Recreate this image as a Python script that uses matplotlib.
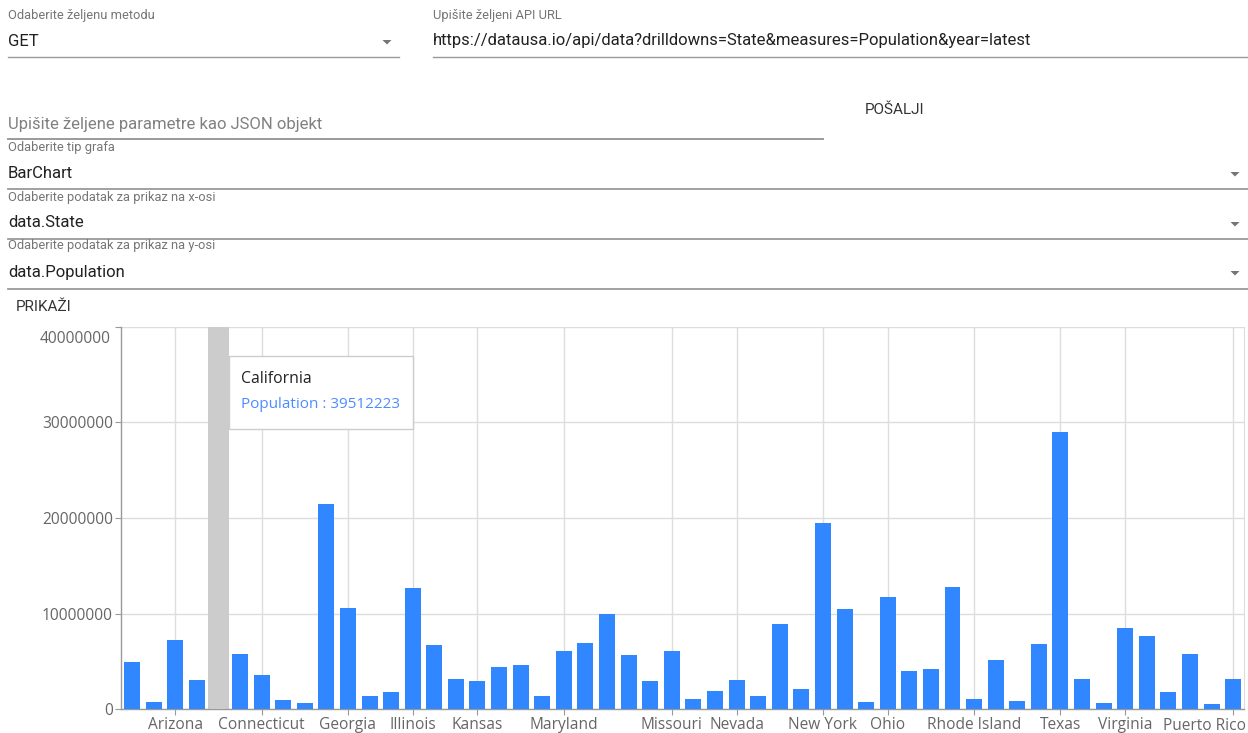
"""
Recreate the state population bar chart screenshot (form + Recharts-style bar chart).

Output:
    out.png
"""

import matplotlib

matplotlib.use("Agg")
import matplotlib.pyplot as plt
import numpy as np
from matplotlib.lines import Line2D
from matplotlib.patches import Polygon, Rectangle
from matplotlib.ticker import FuncFormatter

# Data: population per state (alphabetical, DC and Puerto Rico included).
states = [
    "Alabama", "Alaska", "Arizona", "Arkansas", "California", "Colorado",
    "Connecticut", "Delaware", "District of Columbia", "Florida", "Georgia",
    "Hawaii", "Idaho", "Illinois", "Indiana", "Iowa", "Kansas", "Kentucky",
    "Louisiana", "Maine", "Maryland", "Massachusetts", "Michigan", "Minnesota",
    "Mississippi", "Missouri", "Montana", "Nebraska", "Nevada", "New Hampshire",
    "New Jersey", "New Mexico", "New York", "North Carolina", "North Dakota",
    "Ohio", "Oklahoma", "Oregon", "Pennsylvania", "Rhode Island",
    "South Carolina", "South Dakota", "Tennessee", "Texas", "Utah", "Vermont",
    "Virginia", "Washington", "West Virginia", "Wisconsin", "Wyoming",
    "Puerto Rico",
]
population = [
    4903185, 731545, 7278717, 3017804, 39512223, 5758736,
    3565287, 973764, 705749, 21477737, 10617423,
    1415872, 1787065, 12671821, 6732219, 3155070, 2913314, 4467673,
    4648794, 1344212, 6045680, 6892503, 9986857, 5639632,
    2976149, 6137428, 1068778, 1934408, 3080156, 1359711,
    8882190, 2096829, 19453561, 10488084, 762062,
    11689100, 3956971, 4217737, 12801989, 1059361,
    5148714, 884659, 6829174, 28995881, 3205958, 623989,
    8535519, 7614893, 1792147, 5822434, 578759,
    3193694,
]
# Labels that the chart actually shows on the x axis.
shown_states = [
    "Arizona", "Connecticut", "Georgia", "Illinois", "Kansas", "Maryland",
    "Missouri", "Nevada", "New York", "Ohio", "Rhode Island", "Texas",
    "Virginia", "Puerto Rico",
]
y_ticks = [0, 10000000, 20000000, 30000000, 40000000]
hovered_state = "California"

W, H = 1248, 733
BLUE = "#3087ff"
CHART_FONT = ["Open Sans", "DejaVu Sans"]
FORM_FONT = ["Roboto", "DejaVu Sans"]


def fx(x):
    return x / W


def fy(y):
    return 1 - y / H


def main():
    fig = plt.figure(figsize=(W / 100, H / 100), dpi=100)
    fig.patch.set_facecolor("white")

    # ---------------- form part ----------------
    label_kw = dict(fontsize=9.3, color="#757575", family=FORM_FONT, va="center")
    value_kw = dict(fontsize=12, color="#212121", family=FORM_FONT, va="center")
    line_color = "#9a9a9a"

    def underline(x0, x1, y, lw=1.0):
        fig.add_artist(Line2D([fx(x0), fx(x1)], [fy(y), fy(y)],
                              color=line_color, lw=lw, transform=fig.transFigure))

    def arrow(xc, yc):
        pts = [(fx(xc - 4.5), fy(yc - 2)), (fx(xc + 4.5), fy(yc - 2)),
               (fx(xc), fy(yc + 2.5))]
        fig.add_artist(Polygon(pts, closed=True, color="#757575", lw=0,
                               transform=fig.transFigure))

    fig.text(fx(8), fy(15), "Odaberite željenu metodu", **label_kw)
    fig.text(fx(8), fy(41), "GET", **value_kw)
    arrow(387, 42)
    underline(8, 399, 57)

    fig.text(fx(433), fy(15), "Upišite željeni API URL", **label_kw)
    fig.text(fx(433), fy(41),
             "https://datausa.io/api/data?drilldowns=State&measures=Population&year=latest",
             **value_kw)
    underline(433, 1248, 57)

    fig.text(fx(8), fy(124), "Upišite željene parametre kao JSON objekt",
             fontsize=12, color="#808080", family=FORM_FONT, va="center")
    underline(8, 823, 139, lw=1.4)
    fig.text(fx(865), fy(110), "POŠALJI", fontsize=11, color="#333333",
             family=FORM_FONT, va="center")

    rows = [
        (147, 173, 189, "Odaberite tip grafa", "BarChart"),
        (197, 223, 239, "Odaberite podatak za prikaz na x-osi", "data.State"),
        (246, 272, 289, "Odaberite podatak za prikaz na y-osi", "data.Population"),
    ]
    for ly, vy, uy, lab, val in rows:
        fig.text(fx(8), fy(ly), lab, **label_kw)
        fig.text(fx(8), fy(vy), val, **value_kw)
        arrow(1235, vy + 1)
        underline(8, 1248, uy, lw=1.3)

    fig.text(fx(16), fy(307), "PRIKAŽI", fontsize=11, color="#333333",
             family=FORM_FONT, va="center")

    # ---------------- chart part ----------------
    left, right, top, bottom = 121.2, 1244.0, 326.7, 709.3
    ax = fig.add_axes([fx(left), fy(bottom), fx(right - left), (bottom - top) / H])

    x = np.arange(len(states))
    hi = states.index(hovered_state)
    colors = ["#cccccc" if s == hovered_state else BLUE for s in states]

    ax.axvspan(hi - 0.5, hi + 0.5, color="#cccccc", lw=0, zorder=1)
    ax.bar(x, population, width=0.74, color=colors, zorder=3)

    ax.set_xlim(-0.5, len(states) - 0.5)
    ax.set_ylim(0, y_ticks[-1])

    tick_len, tick_pad, tick_fs = 4.5, 1.0, 11.2
    tick_idx = [states.index(s) for s in shown_states]
    ax.set_xticks(tick_idx)
    # the last label is kept inside the chart, so it is drawn separately
    ax.set_xticklabels(shown_states[:-1] + [""], family=CHART_FONT,
                       fontsize=tick_fs, color="#666666")
    ax.annotate(shown_states[-1], xy=(1.0, 0), xycoords="axes fraction",
                xytext=(1.5, -(tick_len + tick_pad) - 0.6), textcoords="offset points",
                ha="right", va="top", fontsize=tick_fs, color="#666666",
                family=CHART_FONT, annotation_clip=False)

    ax.set_yticks(y_ticks)
    top_val = y_ticks[-1]
    ax.yaxis.set_major_formatter(
        FuncFormatter(lambda v, _: "" if v == top_val else f"{int(v)}"))
    for lab in ax.get_yticklabels():
        lab.set_family(CHART_FONT)
    ax.tick_params(axis="y", length=tick_len, width=0.8, color="#999999", pad=1.5,
                   labelsize=tick_fs, labelcolor="#666666")
    ax.tick_params(axis="x", length=tick_len, width=0.8, color="#999999", pad=tick_pad)

    # top label sits a little lower than its tick in the screenshot
    ax.annotate(f"{top_val}", xy=(0, top_val), xycoords=("axes fraction", "data"),
                xytext=(-7.3, -8.5), textcoords="offset points", ha="right", va="center",
                fontsize=tick_fs, color="#666666", family=CHART_FONT, annotation_clip=False)

    ax.grid(True, color="#dddddd", lw=1.0, zorder=0)
    ax.set_axisbelow(True)
    for side in ("left", "bottom"):
        ax.spines[side].set_color("#999999")
        ax.spines[side].set_linewidth(1.0)
    ax.spines["top"].set_visible(False)
    ax.spines["right"].set_color("#dddddd")

    # tooltip for the hovered bar
    tx0, ty0, tx1, ty1 = 229, 356, 413, 429
    fig.add_artist(Rectangle((fx(tx0), fy(ty1)), fx(tx1 - tx0), (ty1 - ty0) / H,
                             facecolor="white", edgecolor="#cccccc", lw=1.0,
                             transform=fig.transFigure, zorder=10))
    fig.text(fx(241), fy(379), hovered_state, fontsize=11.3, color="#222222",
             family=CHART_FONT, va="center", zorder=11)
    fig.text(fx(241), fy(405), f"Population : {population[hi]}", fontsize=11,
             color="#4d8cff", family=CHART_FONT, va="center", zorder=11)

    fig.savefig("out.png", dpi=100, facecolor="white")


if __name__ == "__main__":
    main()
